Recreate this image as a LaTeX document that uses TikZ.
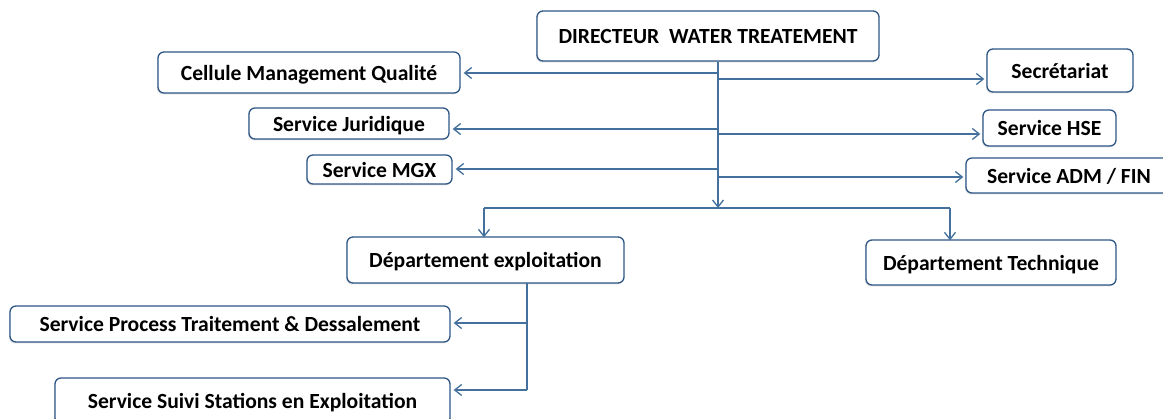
\documentclass[tikz,border=0pt]{standalone}
\usepackage{fontspec}
\setmainfont{Carlito}
\usetikzlibrary{arrows.meta,shadows}
\definecolor{boxline}{HTML}{2F5786}
\definecolor{conn}{HTML}{44709D}
\tikzset{
  unitbox/.style={draw=boxline, line width=1.3pt, rounded corners=6pt, fill=white,
    font=\fontsize{21.6}{24}\selectfont\bfseries, text=black, inner sep=0pt,
    text height=16pt, text depth=0pt,
    drop shadow={opacity=0.25, shadow xshift=-1pt, shadow yshift=-1.5pt}},
  conline/.style={draw=conn, line width=1.3pt},
  arr/.style={conline, -{Straight Barb[length=7pt,width=11pt,line width=1.3pt]}},
}
\begin{document}
\begin{tikzpicture}[x=1pt,y=-1pt]
\useasboundingbox (0,0) rectangle (1163,419);
% boxes
\node[unitbox, minimum width=342pt, minimum height=50pt] (dir) at (708,36) {DIRECTEUR\ \ WATER TREATEMENT};
\node[unitbox, minimum width=302pt, minimum height=41pt] (cmq) at (309,72.5) {Cellule Management Qualité};
\node[unitbox, minimum width=200pt, minimum height=31pt] (sj) at (349,123.5) {Service Juridique};
\node[unitbox, minimum width=145pt, minimum height=29pt] (mgx) at (379.5,169.5) {Service MGX};
\node[unitbox, minimum width=146pt, minimum height=43pt] (sec) at (1060,70.5) {Secrétariat};
\node[unitbox, minimum width=133pt, minimum height=36pt] (hse) at (1049.5,128) {Service HSE};
\node[unitbox, minimum width=206pt, minimum height=35pt] (adm) at (1069,175.5) {Service ADM / FIN};
\node[unitbox, minimum width=277pt, minimum height=46pt] (dexp) at (485.5,260) {Département exploitation};
\node[unitbox, minimum width=250pt, minimum height=45pt] (dtec) at (991,262.5) {Département Technique};
\node[unitbox, minimum width=440pt, minimum height=36pt] (spt) at (230,324) {Service Process Traitement \& Dessalement};
\node[unitbox, minimum width=395pt, minimum height=46pt] (ssse) at (252.5,401) {Service Suivi Stations en Exploitation};
% trunk
\coordinate (top) at (718,62);
\coordinate (hub) at (718,208);
\coordinate (bl1) at (718,73);
\coordinate (bl2) at (718,129);
\coordinate (bl3) at (718,169);
\coordinate (br1) at (718,79);
\coordinate (br2) at (718,134);
\coordinate (br3) at (718,177);
\coordinate (hl) at (484,208);
\coordinate (hr) at (950,208);
\draw[arr] (top) -- (hub);
\draw[arr] (bl1) -- ([xshift=3pt]bl1 -| cmq.east);
\draw[arr] (bl2) -- ([xshift=3pt]bl2 -| sj.east);
\draw[arr] (bl3) -- ([xshift=3pt]bl3 -| mgx.east);
\draw[arr] (br1) -- ([xshift=-2pt]br1 -| sec.west);
\draw[arr] (br2) -- ([xshift=-2pt]br2 -| hse.west);
\draw[arr] (br3) -- ([xshift=-2pt]br3 -| adm.west);
\draw[conline] (hl) -- (hr);
\draw[arr] (hl) -- ([yshift=-1pt]hl |- dexp.north);
\draw[arr] (hr) -- ([yshift=-1pt]hr |- dtec.north);
% exploitation branch
\coordinate (e0) at (527,283);
\coordinate (e1) at (527,323);
\coordinate (e2) at (527,390);
\draw[conline] (e0) -- (e2);
\draw[arr] (e1) -- ([xshift=3pt]e1 -| spt.east);
\draw[arr] (e2) -- ([xshift=3pt]e2 -| ssse.east);
\end{tikzpicture}
\end{document}
